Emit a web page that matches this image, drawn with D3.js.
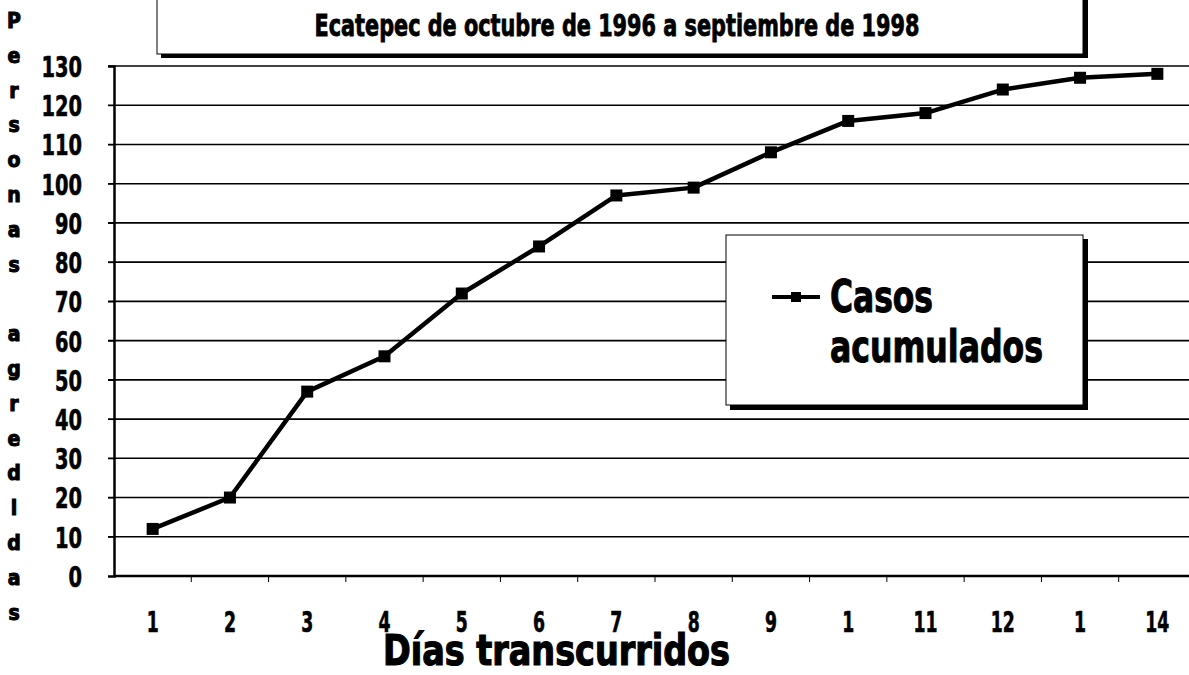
<!DOCTYPE html>
<html>
<head>
<meta charset="utf-8">
<script src="https://cdn.jsdelivr.net/npm/d3@7"></script>
<style>
  body { margin: 0; background: #fff; }
  text { font-family: 'Liberation Sans Narrow', 'DejaVu Sans Condensed', sans-serif; font-weight: bold; fill: #000; }
</style>
</head>
<body>
<div id="chart"></div>
<script>
// data
var dayLabels = ["1", "2", "3", "4", "5", "6", "7", "8", "9", "1", "11", "12", "1", "14"];
var casos = [12, 20, 47, 56, 72, 84, 97, 99, 108, 116, 118, 124, 127, 128];
var yTicks = [0, 10, 20, 30, 40, 50, 60, 70, 80, 90, 100, 110, 120, 130];
var titleText = "Ecatepec de octubre de 1996 a septiembre de 1998";
var yTitle = "Personas agredidas";
var xTitle = "Días transcurridos";
var legendLines = ["Casos", "acumulados"];

var width = 1189, height = 675;
var margin = {top: 66, right: -7, bottom: 99, left: 114};

var svg = d3.select("#chart").append("svg")
    .attr("width", width)
    .attr("height", height);

var x = d3.scaleBand()
    .domain(d3.range(casos.length))
    .range([margin.left, width - margin.right])
    .padding(0);

var y = d3.scaleLinear()
    .domain([0, 130])
    .range([height - margin.bottom, margin.top]);

// horizontal grid lines
svg.selectAll(".grid").data(yTicks.filter(function(d) { return d > 0; })).enter()
  .append("line")
    .attr("class", "grid")
    .attr("x1", margin.left - 6)
    .attr("x2", width)
    .attr("y1", function(d) { return y(d); })
    .attr("y2", function(d) { return y(d); })
    .attr("stroke", "#000")
    .attr("stroke-width", 1.6);

// y axis
var yAxis = svg.append("g")
    .attr("transform", "translate(" + margin.left + ",0)")
    .call(d3.axisLeft(y).tickValues(yTicks).tickSize(6).tickPadding(26).tickFormat(d3.format("d")));
yAxis.select(".domain").attr("stroke-width", 2.5);
yAxis.selectAll("text")
    .style("font-size", "29px")
    .attr("dy", "0.36em")
    .attr("textLength", function(d) { return String(d).length * 13.5; })
    .attr("lengthAdjust", "spacingAndGlyphs")
    .attr("stroke", "#000").attr("stroke-width", 0.6);

// x axis with ticks at band edges
var xAxis = svg.append("g")
    .attr("transform", "translate(0," + y(0) + ")")
    .call(d3.axisBottom(x).tickSize(0).tickFormat(function(d, i) { return dayLabels[i]; }));
xAxis.select(".domain").attr("stroke-width", 2.5).attr("d", "M" + margin.left + ",0H" + width);
xAxis.selectAll("text")
    .style("font-size", "29px")
    .attr("y", 56)
    .attr("dy", 0)
    .attr("textLength", function(d, i) { return dayLabels[i].length * 12; })
    .attr("lengthAdjust", "spacingAndGlyphs")
    .attr("stroke", "#000").attr("stroke-width", 0.6);

svg.selectAll(".xtick").data(d3.range(1, casos.length)).enter()
  .append("line")
    .attr("class", "xtick")
    .attr("x1", function(d) { return x(d); })
    .attr("x2", function(d) { return x(d); })
    .attr("y1", y(0))
    .attr("y2", y(0) + 6)
    .attr("stroke", "#000")
    .attr("stroke-width", 1);

// the series
var line = d3.line()
    .x(function(d, i) { return x(i) + x.bandwidth() / 2; })
    .y(function(d) { return y(d); });

svg.append("path")
    .datum(casos)
    .attr("d", line)
    .attr("fill", "none")
    .attr("stroke", "#000")
    .attr("stroke-width", 4.5)
    .attr("stroke-linejoin", "round");

svg.selectAll(".pt").data(casos).enter()
  .append("rect")
    .attr("class", "pt")
    .attr("x", function(d, i) { return x(i) + x.bandwidth() / 2 - 6; })
    .attr("y", function(d) { return y(d) - 6; })
    .attr("width", 12)
    .attr("height", 12)
    .attr("fill", "#000");

// title box (top edge cut off by the page)
svg.append("rect")
    .attr("x", 161).attr("y", -10)
    .attr("width", 927).attr("height", 68)
    .attr("fill", "#000");
svg.append("rect")
    .attr("x", 157).attr("y", -10)
    .attr("width", 926).attr("height", 64)
    .attr("fill", "#fff")
    .attr("stroke", "#000")
    .attr("stroke-width", 1);
svg.append("text")
    .attr("x", 617).attr("y", 36)
    .attr("text-anchor", "middle")
    .attr("textLength", 605)
    .attr("lengthAdjust", "spacingAndGlyphs")
    .attr("stroke", "#000").attr("stroke-width", 0.8)
    .style("font-size", "30px")
    .text(titleText);

// legend box
svg.append("rect")
    .attr("x", 730).attr("y", 239)
    .attr("width", 358).attr("height", 171)
    .attr("fill", "#000");
svg.append("rect")
    .attr("x", 726).attr("y", 235)
    .attr("width", 357).attr("height", 170)
    .attr("fill", "#fff")
    .attr("stroke", "#000")
    .attr("stroke-width", 1);
svg.append("line")
    .attr("x1", 772).attr("x2", 820)
    .attr("y1", 297).attr("y2", 297)
    .attr("stroke", "#000")
    .attr("stroke-width", 4);
svg.append("rect")
    .attr("x", 791).attr("y", 292)
    .attr("width", 10).attr("height", 10)
    .attr("fill", "#000");
svg.selectAll(".leg").data(legendLines).enter()
  .append("text")
    .attr("class", "leg")
    .attr("x", 830)
    .attr("y", function(d, i) { return 312 + i * 50; })
    .attr("textLength", function(d, i) { return i == 0 ? 103 : 213; })
    .attr("lengthAdjust", "spacingAndGlyphs")
    .attr("stroke", "#000").attr("stroke-width", 1)
    .style("font-size", "44px")
    .text(function(d) { return d; });

// x title
svg.append("text")
    .attr("x", 383).attr("y", 665)
    .attr("textLength", 347)
    .attr("lengthAdjust", "spacingAndGlyphs")
    .attr("stroke", "#000").attr("stroke-width", 1.2)
    .style("font-size", "43px")
    .text(xTitle);

// y title, one letter per row
var letters = yTitle.split("");
svg.selectAll(".ylet").data(letters).enter()
  .append("text")
    .attr("class", "ylet")
    .attr("x", 14)
    .attr("y", function(d, i) { return 28 + i * 34.8; })
    .attr("text-anchor", "middle")
    .attr("stroke", "#000").attr("stroke-width", 1)
    .style("font-size", "21px")
    .text(function(d) { return d; });
</script>
</body>
</html>
